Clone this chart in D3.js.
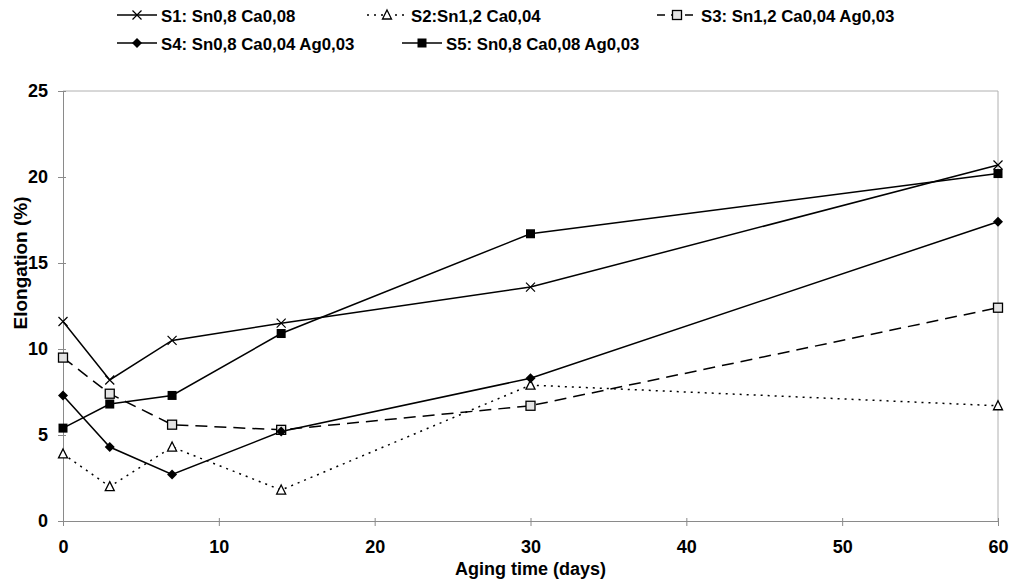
<!DOCTYPE html>
<html>
<head>
<meta charset="utf-8">
<script src="https://cdn.jsdelivr.net/npm/d3@7"></script>
<style>
  html, body { margin: 0; padding: 0; background: #fff; }
  svg { display: block; font-family: "Liberation Sans", Arial, sans-serif; }
</style>
</head>
<body>
<svg id="chart" width="1012" height="582"></svg>
<script>
// Aging time (days) at which elongation was measured
const days = [0, 3, 7, 14, 30, 60];

// Elongation (%) per alloy
const s1 = [11.6, 8.2, 10.5, 11.5, 13.6, 20.7];
const s2 = [3.9, 2.0, 4.3, 1.8, 7.9, 6.7];
const s3 = [9.5, 7.4, 5.6, 5.3, 6.7, 12.4];
const s4 = [7.3, 4.3, 2.7, 5.2, 8.3, 17.4];
const s5 = [5.4, 6.8, 7.3, 10.9, 16.7, 20.2];

const seriesNames = [
  "S1: Sn0,8 Ca0,08",
  "S2:Sn1,2 Ca0,04",
  "S3: Sn1,2 Ca0,04 Ag0,03",
  "S4: Sn0,8 Ca0,04 Ag0,03",
  "S5: Sn0,8 Ca0,08 Ag0,03"
];

const xTicks = [0, 10, 20, 30, 40, 50, 60];
const yTicks = [0, 5, 10, 15, 20, 25];

const series = [
  { name: seriesNames[0], values: s1, dash: null, marker: "cross" },
  { name: seriesNames[1], values: s2, dash: "2,5", marker: "triangle" },
  { name: seriesNames[2], values: s3, dash: "12,7", marker: "openSquare" },
  { name: seriesNames[3], values: s4, dash: null, marker: "diamond" },
  { name: seriesNames[4], values: s5, dash: null, marker: "square" }
];

const svg = d3.select("#chart");
const margin = { left: 63, right: 14, top: 91, bottom: 61 };
const W = 1012, H = 582;

const x = d3.scaleLinear().domain([0, 60]).range([margin.left, W - margin.right]);
const y = d3.scaleLinear().domain([0, 25]).range([H - margin.bottom, margin.top]);

const axisColor = "#8a8a8a";

// Plot frame: top and right edges
svg.append("line")
  .attr("x1", x(0)).attr("x2", x(60)).attr("y1", y(25)).attr("y2", y(25))
  .attr("stroke", "#b0b0b0").attr("stroke-width", 1);
svg.append("line")
  .attr("x1", x(60)).attr("x2", x(60)).attr("y1", y(25)).attr("y2", y(0))
  .attr("stroke", "#b0b0b0").attr("stroke-width", 1);

// Axes
const xAxis = svg.append("g")
  .attr("transform", `translate(0,${y(0)})`)
  .call(d3.axisBottom(x).tickValues(xTicks).tickSize(5).tickPadding(14));
const yAxis = svg.append("g")
  .attr("transform", `translate(${x(0)},0)`)
  .call(d3.axisLeft(y).tickValues(yTicks).tickSize(5).tickPadding(10));

[xAxis, yAxis].forEach(g => {
  g.select(".domain").attr("stroke", axisColor).attr("stroke-width", 1);
  g.selectAll(".tick line").attr("stroke", axisColor);
  g.selectAll(".tick text")
    .attr("fill", "#000")
    .style("font-size", "18px")
    .style("font-weight", "bold")
    .style("font-family", "'Liberation Sans', Arial, sans-serif");
});
// ticks cross the axis slightly on the inside too
xAxis.selectAll(".tick line").attr("y1", -3);
yAxis.selectAll(".tick line").attr("x1", 3);

// Axis titles
svg.append("text")
  .attr("x", (x(0) + x(60)) / 2).attr("y", 575)
  .attr("text-anchor", "middle")
  .style("font-size", "18px").style("font-weight", "bold")
  .text("Aging time (days)");
svg.append("text")
  .attr("transform", `translate(27,263) rotate(-90)`)
  .attr("text-anchor", "middle")
  .style("font-size", "19px").style("font-weight", "bold")
  .text("Elongation (%)");

// Marker drawing
function drawMarker(g, type, cx, cy) {
  switch (type) {
    case "cross":
      g.append("path")
        .attr("d", `M${cx-4.5},${cy-4.5}L${cx+4.5},${cy+4.5}M${cx-4.5},${cy+4.5}L${cx+4.5},${cy-4.5}`)
        .attr("stroke", "#000").attr("stroke-width", 1.2).attr("fill", "none");
      break;
    case "triangle":
      g.append("path")
        .attr("d", `M${cx},${cy-5}L${cx+4.5},${cy+4}L${cx-4.5},${cy+4}Z`)
        .attr("stroke", "#000").attr("stroke-width", 1.3).attr("fill", "#fff");
      break;
    case "openSquare":
      g.append("rect")
        .attr("x", cx - 4.5).attr("y", cy - 4.5).attr("width", 9).attr("height", 9)
        .attr("stroke", "#000").attr("stroke-width", 1.3).attr("fill", "#e4e4e4");
      break;
    case "diamond":
      g.append("path")
        .attr("d", `M${cx},${cy-5}L${cx+5},${cy}L${cx},${cy+5}L${cx-5},${cy}Z`)
        .attr("fill", "#000");
      break;
    case "square":
      g.append("rect")
        .attr("x", cx - 4.5).attr("y", cy - 4.5).attr("width", 9).attr("height", 9)
        .attr("fill", "#000");
      break;
  }
}

const line = d3.line().x(d => x(d[0])).y(d => y(d[1]));

// Series lines then markers
series.forEach(s => {
  const pts = days.map((d, i) => [d, s.values[i]]);
  svg.append("path")
    .datum(pts)
    .attr("d", line)
    .attr("fill", "none")
    .attr("stroke", "#000")
    .attr("stroke-width", 1.5)
    .attr("stroke-dasharray", s.dash);
});
series.forEach(s => {
  const g = svg.append("g");
  days.forEach((d, i) => drawMarker(g, s.marker, x(d), y(s.values[i])));
});

// Legend
const legendPos = [
  { lx: 117, ly: 15 },
  { lx: 367, ly: 15 },
  { lx: 657, ly: 15 },
  { lx: 117, ly: 43 },
  { lx: 402, ly: 43 }
];
series.forEach((s, i) => {
  const p = legendPos[i];
  const g = svg.append("g");
  g.append("line")
    .attr("x1", p.lx).attr("x2", p.lx + 40)
    .attr("y1", p.ly).attr("y2", p.ly)
    .attr("stroke", "#000").attr("stroke-width", 1.5)
    .attr("stroke-dasharray", s.dash === "12,7" ? "8,6" : s.dash);
  drawMarker(g, s.marker, p.lx + 20, p.ly);
  g.append("text")
    .attr("x", p.lx + 44).attr("y", p.ly + 6.5)
    .style("font-size", "16.8px").style("font-weight", "bold")
    .text(s.name);
});
</script>
</body>
</html>
